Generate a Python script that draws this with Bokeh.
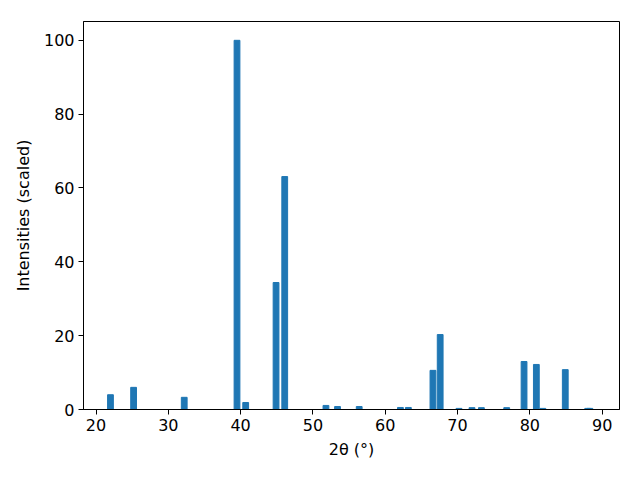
from bokeh.plotting import figure
from bokeh.embed import file_html
from bokeh.resources import INLINE
from bokeh.models import Range1d, FixedTicker

# Peak positions (2theta, degrees) and scaled intensities
two_theta = [22.0, 25.2, 32.2, 39.5, 40.7, 44.9, 46.1, 51.8, 53.4, 56.4,
             62.1, 63.2, 66.6, 67.6, 70.2, 72.0, 73.3, 76.8, 79.2, 80.9,
             81.8, 84.9, 88.0, 88.3]
intensity = [4.0, 6.0, 3.3, 100.0, 1.9, 34.4, 63.1, 1.1, 0.8, 0.8,
             0.55, 0.55, 10.6, 20.3, 0.3, 0.5, 0.5, 0.5, 13.0, 12.2,
             0.3, 10.8, 0.3, 0.3]
x_ticks = [20, 30, 40, 50, 60, 70, 80, 90]
y_ticks = [0, 20, 40, 60, 80, 100]

p = figure(width=640, height=480, output_backend="svg", toolbar_location=None,
           x_range=Range1d(18.27, 92.4), y_range=Range1d(0, 105.1),
           min_border_left=83, min_border_right=21, min_border_top=21,
           min_border_bottom=71)

p.vbar(x=two_theta, top=intensity, width=0.8, bottom=0, color="#1f77b4")

p.xgrid.visible = False
p.ygrid.visible = False
p.outline_line_color = "black"
p.outline_line_alpha = 1.0
p.outline_line_width = 1

for ax, ticks in ((p.xaxis[0], x_ticks), (p.yaxis[0], y_ticks)):
    ax.ticker = FixedTicker(ticks=ticks)
    ax.minor_tick_line_color = None
    ax.major_tick_in = 0
    ax.major_tick_out = 5
    ax.major_tick_line_color = "black"
    ax.axis_line_color = "black"
    ax.major_label_text_font = "DejaVu Sans"
    ax.major_label_text_font_size = "16px"
    ax.major_label_text_color = "black"
    ax.axis_label_text_font = "DejaVu Sans"
    ax.axis_label_text_font_size = "16px"
    ax.axis_label_text_font_style = "normal"
    ax.axis_label_text_color = "black"
    ax.major_label_standoff = 4

p.xaxis.axis_label = "2θ (°)"
p.yaxis.axis_label = "Intensities (scaled)"
p.xaxis.axis_label_standoff = 6
p.yaxis.axis_label_standoff = 8

open("out.html", "w").write(file_html(p, INLINE))
